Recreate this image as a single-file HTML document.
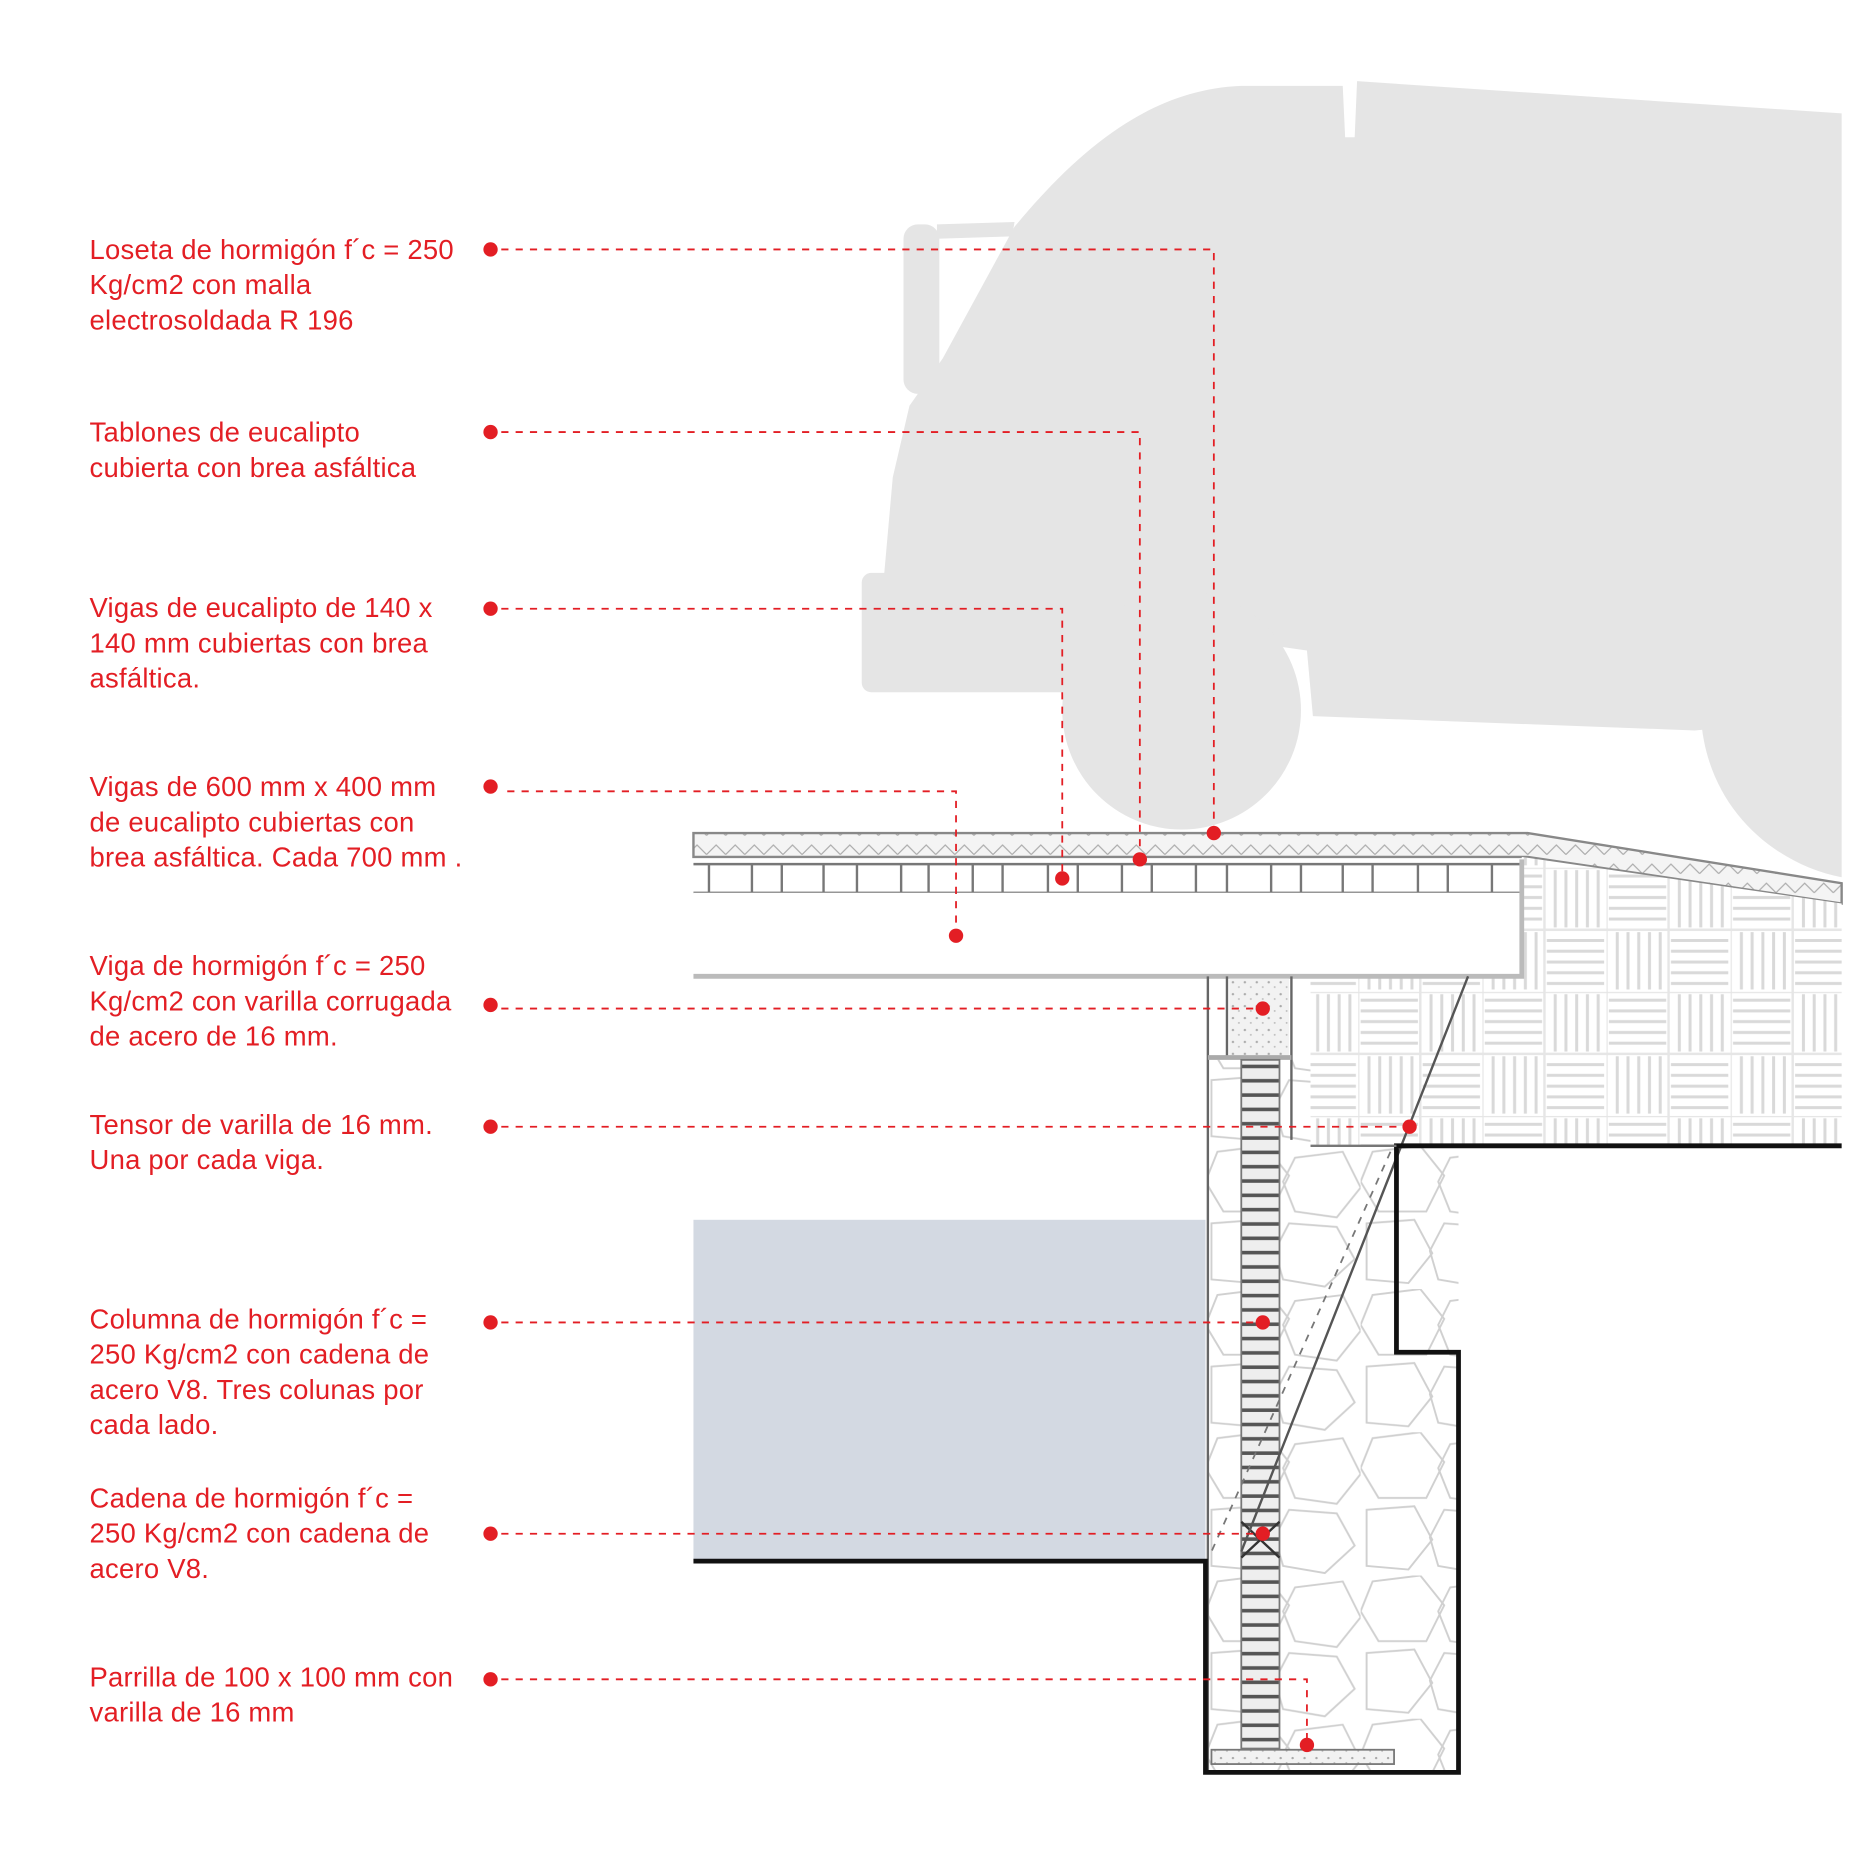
<!DOCTYPE html>
<html><head><meta charset="utf-8"><style>html,body{margin:0;padding:0;background:#fff}svg{display:block}</style></head>
<body>
<svg width="1850" height="1850" viewBox="0 0 1550 1550" xmlns="http://www.w3.org/2000/svg">
<defs>
<pattern id="bw" width="104" height="104" patternUnits="userSpaceOnUse" x="1138" y="727">
<rect width="104" height="104" fill="#fff"/>
<g stroke="#d9d9d9" stroke-width="2.5">
<path d="M2 7H50M2 16H50M2 25H50M2 34H50M2 43H50"/>
<path d="M61 2V50M70 2V50M79 2V50M88 2V50M97 2V50"/>
<path d="M9 54V102M18 54V102M27 54V102M36 54V102M45 54V102"/>
<path d="M54 61H102M54 70H102M54 79H102M54 88H102M54 97H102"/>
</g>
<g stroke="#e6e6e6" stroke-width="2"><path d="M0 0H104M0 52H104M0 0V104M52 0V104"/></g>
</pattern>
<pattern id="stone" width="130" height="120" patternUnits="userSpaceOnUse" x="1010" y="960">
<rect width="130" height="120" fill="#fff"/>
<g fill="none" stroke="#d0d0d0" stroke-width="1.6">
<path d="M10 5 L50 0 L70 25 L55 55 L15 55 L0 30 Z"/>
<path d="M75 10 L115 5 L130 35 L110 60 L75 55 L65 30 Z"/>
<path d="M5 65 L45 62 L60 90 L40 115 L5 112 Z"/>
<path d="M70 65 L110 68 L125 95 L100 118 L65 112 L58 88 Z"/>
</g></pattern>
<pattern id="sp" width="10" height="10" patternUnits="userSpaceOnUse">
<rect width="10" height="10" fill="#f2f2f2"/><circle cx="3" cy="3" r="1" fill="#aaa"/><circle cx="8" cy="7" r="0.8" fill="#bbb"/></pattern>
<pattern id="slab" width="16" height="16" patternUnits="userSpaceOnUse">
<rect width="16" height="16" fill="#f4f4f4"/><path d="M0 12L8 4L16 12" stroke="#aaa" fill="none" stroke-width="1"/></pattern>
<pattern id="ladder" width="32" height="12" patternUnits="userSpaceOnUse" x="1040" y="888">
<rect width="32" height="12" fill="#eee"/><rect y="4" width="32" height="3" fill="#555"/></pattern>
</defs>
<!-- truck -->
<g fill="#e5e5e5">
<path d="M740 490 L748 400 L762 340 L790 300 L850 190 C900 130 960 75 1040 72 L1125 72 L1127 115 L1135 115 L1137 68 L1543 95 L1543 600 L1420 612 L1100 600 L1095 545 L1060 540 L1030 548 L900 548 L890 490 Z"/>
<rect x="757" y="188" width="30" height="142" rx="12"/>
<path d="M785 188 L850 186 L848 198 L785 200 Z"/>
<rect x="722" y="480" width="190" height="100" rx="8"/>
<circle cx="990" cy="595" r="100"/>
<path d="M1425 600 C1430 680 1490 725 1543 735 L1543 600 Z"/>
</g>
<!-- slab -->
<path d="M581 698 H1280 L1543 740 V757 L1280 718 H581 Z" fill="url(#slab)" stroke="#888" stroke-width="2"/>
<!-- hatch region -->
<path d="M1275 718 L1543 757 V960 H1098 V818 H1275 Z" fill="url(#bw)"/>
<!-- joists -->
<g stroke="#777" stroke-width="2">
<line x1="581" y1="724" x2="1275" y2="724"/>
<line x1="581" y1="748" x2="1275" y2="748"/>
<path d="M594 724V748M630 724V748M655 724V748M690 724V748M718 724V748M755 724V748M778 724V748M815 724V748M840 724V748M878 724V748M903 724V748M940 724V748M965 724V748M1002 724V748M1028 724V748M1065 724V748M1090 724V748M1125 724V748M1150 724V748M1188 724V748M1213 724V748M1250 724V748"/>
</g>
<rect x="581" y="748" width="694" height="70" fill="#fff"/>
<path d="M581 818 H1275 V720" stroke="#bbb" stroke-width="4" fill="none"/>
<!-- blue -->
<rect x="581" y="1022" width="429" height="286" fill="#d3d9e2"/>
<!-- column stone -->
<rect x="1012" y="960" width="210" height="525" fill="url(#stone)"/>
<rect x="1012" y="888" width="86" height="72" fill="url(#stone)"/>
<!-- column walls -->
<g stroke="#666" stroke-width="2" fill="none">
<path d="M1012 818 V1485 M1082 818 V888 M1028 818 V885 M1082 888 V955"/>
</g>
<rect x="1030" y="820" width="50" height="64" fill="url(#sp)"/>
<line x1="1012" y1="886" x2="1082" y2="886" stroke="#aaa" stroke-width="4"/>
<rect x="1040" y="888" width="32" height="577" fill="url(#ladder)" stroke="#777" stroke-width="1.5"/>
<path d="M1040 1275 L1072 1305 M1072 1275 L1040 1305" stroke="#333" stroke-width="2"/>
<line x1="1230" y1="818" x2="1040" y2="1300" stroke="#555" stroke-width="2"/>
<line x1="1165" y1="965" x2="1015" y2="1300" stroke="#777" stroke-width="1.5" stroke-dasharray="6 6"/>
<rect x="1015" y="1466" width="153" height="12" fill="url(#sp)" stroke="#777" stroke-width="1.5"/>
<!-- black outline -->
<path d="M1543 960 H1170 V1133 H1222 V1485 H1010 V1308 H581" stroke="#111" stroke-width="4" fill="none"/>
<line x1="1098" y1="960" x2="1170" y2="960" stroke="#777" stroke-width="2"/>
<!-- connectors -->
<g stroke="#e31e24" stroke-width="1.5" stroke-dasharray="6 6" fill="none">
<path d="M420 209 H1017 V698"/>
<path d="M420 362 H955 V720"/>
<path d="M420 510 H890 V736"/>
<path d="M425 663 H801 V784"/>
<path d="M420 845 H1058"/>
<path d="M420 944 H1181"/>
<path d="M420 1108 H1058"/>
<path d="M420 1285 H1058"/>
<path d="M420 1407 H1095 V1462"/>
</g>
<g fill="#e31e24">
<circle cx="411" cy="209" r="6"/><circle cx="1017" cy="698" r="6"/>
<circle cx="411" cy="362" r="6"/><circle cx="955" cy="720" r="6"/>
<circle cx="411" cy="510" r="6"/><circle cx="890" cy="736" r="6"/>
<circle cx="411" cy="659" r="6"/><circle cx="801" cy="784" r="6"/>
<circle cx="411" cy="842" r="6"/><circle cx="1058" cy="845" r="6"/>
<circle cx="411" cy="944" r="6"/><circle cx="1181" cy="944" r="6"/>
<circle cx="411" cy="1108" r="6"/><circle cx="1058" cy="1108" r="6"/>
<circle cx="411" cy="1285" r="6"/><circle cx="1058" cy="1285" r="6"/>
<circle cx="411" cy="1407" r="6"/><circle cx="1095" cy="1462" r="6"/>
</g>
<g fill="#e31e24" font-family="Liberation Sans, sans-serif" font-size="23" letter-spacing="0.2">
<text x="75" y="217">Loseta de hormigón f´c = 250</text>
<text x="75" y="246.5">Kg/cm2 con malla</text>
<text x="75" y="276">electrosoldada R 196</text>
<text x="75" y="370">Tablones de eucalipto</text>
<text x="75" y="399.5">cubierta con brea asfáltica</text>
<text x="75" y="517">Vigas de eucalipto de 140 x</text>
<text x="75" y="546.5">140 mm cubiertas con brea</text>
<text x="75" y="576">asfáltica.</text>
<text x="75" y="667">Vigas de 600 mm x 400 mm</text>
<text x="75" y="696.5">de eucalipto cubiertas con</text>
<text x="75" y="726">brea asfáltica.  Cada 700 mm .</text>
<text x="75" y="817">Viga de hormigón  f´c = 250</text>
<text x="75" y="846.5">Kg/cm2  con varilla corrugada</text>
<text x="75" y="876">de acero  de 16 mm.</text>
<text x="75" y="950">Tensor de varilla de 16 mm.</text>
<text x="75" y="979.5">Una por cada viga.</text>
<text x="75" y="1113">Columna de hormigón f´c =</text>
<text x="75" y="1142.5">250 Kg/cm2 con cadena de</text>
<text x="75" y="1172">acero V8.  Tres colunas por</text>
<text x="75" y="1201.5">cada lado.</text>
<text x="75" y="1263">Cadena de hormigón f´c =</text>
<text x="75" y="1292.5">250 Kg/cm2 con cadena de</text>
<text x="75" y="1322">acero V8.</text>
<text x="75" y="1413">Parrilla de 100 x 100 mm con</text>
<text x="75" y="1442.5">varilla de 16 mm</text>
</g>
</svg>
</body></html>
